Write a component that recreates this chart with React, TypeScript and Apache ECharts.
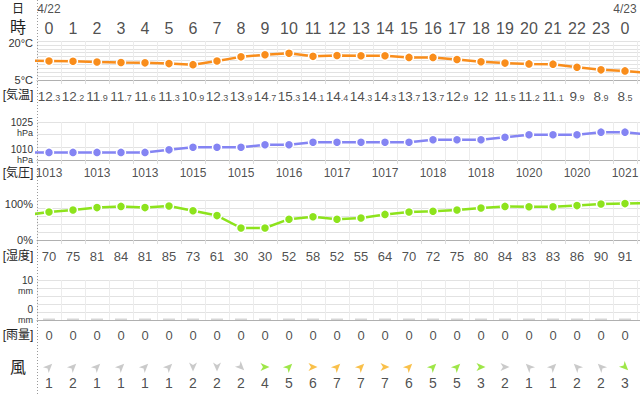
import React, { useEffect, useRef } from "react";
import * as echarts from "echarts";

const JP = '"Liberation Sans", "Noto Sans CJK JP", sans-serif';
const NUM = '"Liberation Sans", "Noto Sans", sans-serif';

// Dates shown above hour columns
const dateLabels = ["4/22", "4/23"];
const dateColumns = [0, 24];
// Hour row (25 visible columns)
const hourLabels = ["0", "1", "2", "3", "4", "5", "6", "7", "8", "9", "10", "11", "12", "13", "14", "15", "16", "17", "18", "19", "20", "21", "22", "23", "0"];
// Line values include the neighbouring hours that are cut at the edges:
// first = 23:00 of 4/21, last = 1:00 of 4/23
const temperature = [12.4, 12.3, 12.2, 11.9, 11.7, 11.6, 11.3, 10.9, 12.3, 13.9, 14.7, 15.3, 14.1, 14.4, 14.3, 14.3, 13.7, 13.7, 12.9, 12, 11.5, 11.2, 11.1, 9.9, 8.9, 8.5, 7.7];
const pressure = [1013, 1013, 1013, 1013, 1013, 1013, 1014, 1015, 1015, 1015, 1016, 1016, 1017, 1017, 1017, 1017, 1017, 1018, 1018, 1018, 1019, 1020, 1020, 1020, 1021, 1021, 1020];
const humidity = [62, 70, 75, 81, 84, 81, 85, 73, 61, 30, 30, 52, 58, 52, 55, 64, 70, 72, 75, 80, 84, 83, 83, 86, 90, 91, 92];
const rainfall = [0, 0, 0, 0, 0, 0, 0, 0, 0, 0, 0, 0, 0, 0, 0, 0, 0, 0, 0, 0, 0, 0, 0, 0, 0];
const windSpeed = [1, 2, 1, 1, 1, 1, 2, 2, 2, 4, 5, 6, 7, 7, 7, 6, 5, 5, 3, 2, 1, 1, 2, 2, 3];
// heading the arrow points to, degrees clockwise from up
const windHeading = [45, 45, 45, 45, 45, 45, 180, 180, 135, 90, 45, 90, 45, 45, 90, 45, 45, 45, 90, 90, 315, 45, 315, 315, 135];

// Axis tick labels
const tempAxisLabels = ["5°C", "20°C"];
const presAxisLabels = ["1010", "1025"];
const presUnit = "hPa";
const humAxisLabels = ["0%", "100%"];
const rainAxisLabels = ["0", "10"];
const rainUnit = "mm";

// Row captions
const rowCaptions = ["日", "時", "[気温]", "[気圧]", "[湿度]", "[雨量]", "風"];

const ROW = { date: 9, hour: 28, temp: 95, pres: 173, hum: 256, rain: 335, arrow: 367, speed: 383 };
const captionY = [9, 27, 95, 173, 256, 335, 367];
const captionSize = [12, 16, 12, 12, 12, 12, 16];

const ARROW = "path://M5,0L10,11L5,8L0,11Z";

function windColor(s: number) {
  if (s >= 6) return "#f7b01d";
  if (s >= 3) return "#86e01a";
  return "#bdbdbd";
}

export default function App() {
  const ref = useRef<HTMLDivElement>(null);
  useEffect(() => {
    if (!ref.current) return;
    const chart = echarts.init(ref.current, null, { renderer: "svg" });

    const XMIN = -0.5;
    const XMAX = 24.625;
    const gridLeft = 37;
    const grids = [
      { left: gridLeft, right: 0, top: 41, height: 39 },
      { left: gridLeft, right: 0, top: 122, height: 38 },
      { left: gridLeft, right: 0, top: 200, height: 40 },
      { left: gridLeft, right: 0, top: 280, height: 40 },
      { left: gridLeft, right: 0, top: 0, height: 395 },
    ];
    const xAxis = (gridIndex: number, min: number, max: number, show = true) => ({
      type: "value",
      gridIndex,
      min,
      max,
      interval: 1,
      show,
      axisLabel: { show: false },
      axisTick: { show: true, length: 4, lineStyle: { color: "#dedede" } },
      axisLine: { show: true, onZero: false, lineStyle: { color: "#b0b0b0" } },
      splitLine: { show: true, lineStyle: { color: "#ececec" } },
    });
    const labelCommon = {
      show: true,
      margin: 4,
      color: "#333",
      fontFamily: NUM,
      showMinLabel: true,
      showMaxLabel: true,
    };
    const ySplit = { show: true, lineStyle: { color: "#e2e2e2" } };
    const twoLineRich = {
      s: { fontSize: 1, lineHeight: 11 },
      n: { fontSize: 10, lineHeight: 11, fontFamily: NUM, color: "#333" },
      u: { fontSize: 9, lineHeight: 11, fontFamily: NUM, color: "#333" },
    };

    const textSeries = (data: any[], label: any) => ({
      type: "scatter",
      xAxisIndex: 4,
      yAxisIndex: 5,
      symbolSize: 1,
      itemStyle: { color: "transparent" },
      silent: true,
      data,
      label: { show: true, position: "inside", color: "#222", fontFamily: NUM, ...label },
      z: 5,
    });

    const visible = (arr: number[]) => arr.slice(1, 26);

    const option: any = {
      animation: false,
      backgroundColor: "#fff",
      grid: grids,
      xAxis: [
        xAxis(0, XMIN, XMAX),
        xAxis(1, XMIN, XMAX),
        xAxis(2, XMIN, XMAX),
        { ...xAxis(3, 0, XMAX - XMIN), axisTick: { show: false } },
        { type: "value", gridIndex: 4, min: XMIN, max: XMAX, show: false },
      ],
      yAxis: [
        { type: "value", gridIndex: 0, min: 5, max: 20, show: false },
        {
          type: "value",
          gridIndex: 0,
          position: "left",
          min: 0,
          max: 10,
          interval: 1,
          axisLine: { show: false },
          axisTick: { show: false },
          splitLine: ySplit,
          axisLabel: {
            ...labelCommon,
            fontSize: 11,
            formatter: (v: number) =>
              v === 10 ? `{s| }\n{n|${tempAxisLabels[1]}}` : v === 0 ? `{n|${tempAxisLabels[0]}}` : "",
            rich: { s: { fontSize: 1, lineHeight: 4 }, n: { fontSize: 11, lineHeight: 13, fontFamily: NUM, color: "#333" } },
          },
        },
        {
          type: "value",
          gridIndex: 1,
          min: 1010,
          max: 1025,
          interval: 5,
          axisLine: { show: false },
          axisTick: { show: false },
          splitLine: ySplit,
          axisLabel: {
            ...labelCommon,
            formatter: (v: number) =>
              v === 1025
                ? `{s| }\n{n|${presAxisLabels[1]}}\n{u|${presUnit}}`
                : v === 1010
                ? `{n|${presAxisLabels[0]}}\n{u|${presUnit}}\n{s| }`
                : "",
            rich: twoLineRich,
          },
        },
        {
          type: "value",
          gridIndex: 2,
          min: 0,
          max: 100,
          interval: 20,
          axisLine: { show: false },
          axisTick: { show: false },
          splitLine: ySplit,
          axisLabel: {
            ...labelCommon,
            formatter: (v: number) =>
              v === 100 ? `{s| }\n{n|${humAxisLabels[1]}}` : v === 0 ? `{n|${humAxisLabels[0]}}` : "",
            rich: { s: { fontSize: 1, lineHeight: 7 }, n: { fontSize: 11, lineHeight: 13, fontFamily: NUM, color: "#333" } },
          },
        },
        {
          type: "value",
          gridIndex: 3,
          min: 0,
          max: 10,
          interval: 2,
          axisLine: { show: false },
          axisTick: { show: false },
          splitLine: ySplit,
          axisLabel: {
            ...labelCommon,
            formatter: (v: number) =>
              v === 10
                ? `{s| }\n{n|${rainAxisLabels[1]}}\n{u|${rainUnit}}`
                : v === 0
                ? `{n|${rainAxisLabels[0]}}\n{u|${rainUnit}}\n{s| }`
                : "",
            rich: twoLineRich,
          },
        },
        { type: "value", gridIndex: 4, min: 0, max: 395, inverse: true, show: false },
      ],
      graphic: [
        {
          type: "line",
          shape: { x1: 37.5, y1: 0, x2: 37.5, y2: 395 },
          style: { stroke: "#9a9a9a", lineWidth: 1, lineDash: [1, 2] },
          z: 10,
        },
        ...rowCaptions.map((t, i) => ({
          type: "text",
          x: 18,
          y: captionY[i],
          style: {
            text: t,
            align: "center",
            verticalAlign: "middle",
            fontSize: captionSize[i],
            fontFamily: JP,
            fill: "#222",
          },
        })),
      ],
      series: [
        {
          type: "line",
          xAxisIndex: 0,
          yAxisIndex: 0,
          data: temperature.map((v, i) => [i - 1, v]),
          clip: true,
          symbol: "circle",
          symbolSize: 9,
          showAllSymbol: true,
          lineStyle: { color: "#f98d1b", width: 2.5 },
          itemStyle: { color: "#f98d1b", borderColor: "#fff", borderWidth: 1.5 },
        },
        {
          type: "line",
          xAxisIndex: 1,
          yAxisIndex: 2,
          data: pressure.map((v, i) => [i - 1, v]),
          clip: true,
          symbol: "circle",
          symbolSize: 9,
          showAllSymbol: true,
          lineStyle: { color: "#8484f3", width: 2.5 },
          itemStyle: { color: "#8484f3", borderColor: "#fff", borderWidth: 1.5 },
        },
        {
          type: "line",
          xAxisIndex: 2,
          yAxisIndex: 3,
          data: humidity.map((v, i) => [i - 1, v]),
          clip: true,
          symbol: "circle",
          symbolSize: 9,
          showAllSymbol: true,
          lineStyle: { color: "#8de31c", width: 2.5 },
          itemStyle: { color: "#8de31c", borderColor: "#fff", borderWidth: 1.5 },
        },
        {
          type: "bar",
          xAxisIndex: 3,
          yAxisIndex: 4,
          data: rainfall.map((v, i) => [i + 0.5, v]),
          barWidth: 12,
          barMinHeight: 1.5,
          itemStyle: { color: "#d6d6d6" },
        },
        textSeries(
          dateLabels.map((d, i) => ({ value: [dateColumns[i], ROW.date], name: d })),
          { fontSize: 12, formatter: (p: any) => p.name, color: "#222" }
        ),
        textSeries(
          hourLabels.map((h, i) => ({ value: [i, ROW.hour], name: h })),
          { fontSize: 16, formatter: (p: any) => p.name }
        ),
        textSeries(
          visible(temperature).map((v, i) => ({ value: [i, ROW.temp, v] })),
          {
            formatter: (p: any) => {
              const s = String(p.value[2]);
              const parts = s.split(".");
              return parts.length > 1 ? `{a|${parts[0]}}{b|.${parts[1]}}` : `{a|${parts[0]}}`;
            },
            rich: {
              a: { fontSize: 13.5, fontFamily: NUM, color: "#222", lineHeight: 16, verticalAlign: "bottom" },
              b: { fontSize: 9, fontFamily: NUM, color: "#222", lineHeight: 16, verticalAlign: "bottom", padding: [0, 0, 1, 0] },
            },
          }
        ),
        textSeries(
          visible(pressure)
            .map((v, i) => ({ value: [i, ROW.pres, v] }))
            .filter((d, i) => i % 2 === 0),
          { fontSize: 12, formatter: (p: any) => String(p.value[2]) }
        ),
        textSeries(
          visible(humidity).map((v, i) => ({ value: [i, ROW.hum, v] })),
          { fontSize: 13, formatter: (p: any) => String(p.value[2]) }
        ),
        textSeries(
          rainfall.map((v, i) => ({ value: [i, ROW.rain, v] })),
          { fontSize: 13, formatter: (p: any) => String(p.value[2]) }
        ),
        {
          type: "scatter",
          xAxisIndex: 4,
          yAxisIndex: 5,
          silent: true,
          symbol: ARROW,
          symbolSize: [8, 9],
          data: windSpeed.map((s, i) => ({
            value: [i, ROW.arrow],
            symbolRotate: -windHeading[i],
            itemStyle: { color: windColor(s) },
          })),
        },
        textSeries(
          windSpeed.map((s, i) => ({ value: [i, ROW.speed, s] })),
          { fontSize: 14, formatter: (p: any) => String(p.value[2]) }
        ),
      ],
    };
    chart.setOption(option);
    return () => chart.dispose();
  }, []);
  return (
    <div
      ref={ref}
      style={{ position: "fixed", left: 0, top: 0, width: 640, height: 395, background: "#fff" }}
    />
  );
}
